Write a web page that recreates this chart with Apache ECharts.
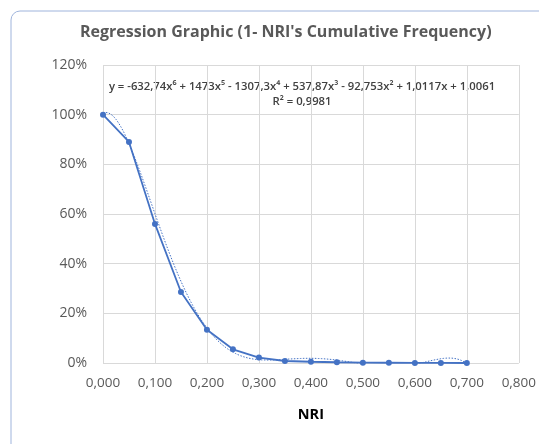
<!DOCTYPE html>
<html><head><meta charset="utf-8">
<script src="https://cdn.jsdelivr.net/npm/echarts@6/dist/echarts.min.js"></script>
<style>html,body{margin:0;padding:0;background:#fff}#c{width:539px;height:444px}</style>
</head><body><div id="c"></div>
<script>
const nri = [0.00,0.05,0.10,0.15,0.20,0.25,0.30,0.35,0.40,0.45,0.50,0.55,0.60,0.65,0.70];
const freq = [1.00,0.89,0.56,0.286,0.134,0.055,0.022,0.008,0.005,0.003,0.0015,0.001,0.0005,0.0005,0.0];
// trendline coefficients shown in the chart, highest power first (x^6 ... x^0)
const coef = [-632.74,1473,-1307.3,537.87,-92.753,1.0117,1.0061];
const eqText = 'y = -632,74x⁶ + 1473x⁵ - 1307,3x⁴ + 537,87x³ - 92,753x² + 1,0117x + 1,0061';
const r2Text = 'R² = 0,9981';

const trend = [];
for (let i = 0; i <= 140; i++) {
  const x = i * 0.005;
  let y = 0;
  for (const c of coef) y = y * x + c;
  trend.push([x, y]);
}
const font = "'Open Sans', 'Liberation Sans', sans-serif";
const chart = echarts.init(document.getElementById('c'));
chart.setOption({
  animation: false,
  title: {
    text: "Regression Graphic (1- NRI's Cumulative Frequency)",
    left: 75, top: 19,
    textStyle: {fontFamily: font, fontSize: 16, fontWeight: 'bold', color: '#595959'}
  },
  graphic: [
    {type: 'rect', shape: {x: 11, y: 11, width: 560, height: 460, r: 9}, style: {fill: 'none', stroke: '#9fb4dc', lineWidth: 1}},
    {type: 'text', x: 302, y: 79, style: {text: eqText + '\n' + r2Text, textAlign: 'center', align: 'center', fontFamily: font, fontSize: 11.3, fontWeight: 600, fill: '#404040', lineHeight: 15}}
  ],
  grid: {left: 103, right: 19, top: 65, bottom: 81},
  xAxis: {
    type: 'value', min: 0, max: 0.8, interval: 0.1,
    name: 'NRI', nameLocation: 'middle', nameGap: 44,
    nameTextStyle: {fontFamily: font, fontSize: 14.5, fontWeight: 'bold', color: '#000'},
    axisLine: {show: false}, axisTick: {show: false},
    axisLabel: {fontFamily: font, fontSize: 13.5, color: '#595959', margin: 13,
      formatter: v => v.toFixed(3).replace('.', ',')},
    splitLine: {show: true, lineStyle: {color: '#d9d9d9'}}
  },
  yAxis: {
    type: 'value', min: 0, max: 1.2, interval: 0.2,
    axisLine: {show: false}, axisTick: {show: false},
    axisLabel: {fontFamily: font, fontSize: 14, color: '#595959', margin: 16,
      formatter: v => Math.round(v * 100) + '%'},
    splitLine: {lineStyle: {color: '#d9d9d9'}}
  },
  series: [
    {type: 'line', data: nri.map((x, i) => [x, freq[i]]), symbol: 'circle', symbolSize: 6,
      lineStyle: {color: '#4472C4', width: 1.8}, itemStyle: {color: '#4472C4'}, z: 3},
    {type: 'line', data: trend, symbol: 'none', smooth: false,
      lineStyle: {color: '#4472C4', width: 1, type: [1.5, 1.5]}, z: 2}
  ]
});
</script></body></html>
